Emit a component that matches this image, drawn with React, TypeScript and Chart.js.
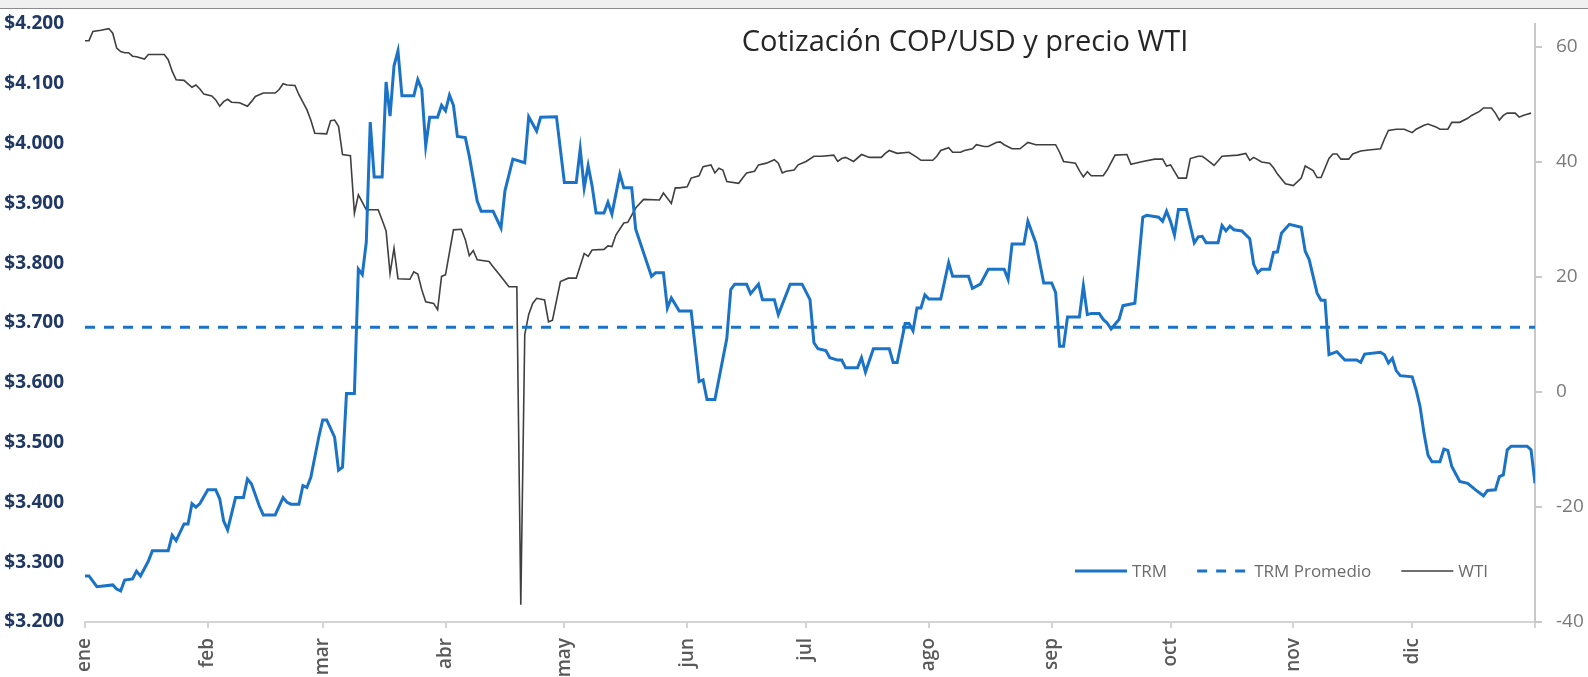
import React, { useEffect, useRef } from 'react';
import { Chart, registerables } from 'chart.js';

Chart.register(...registerables);

// ---------- data ----------
const chartTitle = 'Cotización COP/USD y precio WTI';
const seriesLabels = ['TRM', 'TRM Promedio', 'WTI'];
const monthLabels = ['ene', 'feb', 'mar', 'abr', 'may', 'jun', 'jul', 'ago', 'sep', 'oct', 'nov', 'dic'];
const monthStartDays = [0, 31, 60, 91, 121, 152, 182, 213, 244, 274, 305, 335];
const yearEndDay = 366;

// TRM (COP per USD), day of year 2020 (0 = 1 ene)
const trmDays = [
  0, 1, 3, 7, 8, 9, 10, 12, 13, 14, 16, 17, 21, 22, 23, 25, 26, 27, 28, 29, 31, 33, 34, 35, 36, 38, 40, 41, 42, 44,
  45, 48, 50, 51, 52, 54, 55, 56, 57, 59, 60, 61, 63, 64, 65, 66, 68, 69, 70, 71, 72, 73, 75, 76, 77, 78, 79, 80, 83, 84,
  85, 86, 87, 89, 90, 91, 92, 93, 94, 96, 97, 99, 100, 103, 105, 106, 108, 111, 112, 114, 115, 119, 121, 124, 125, 126, 127, 128, 129, 131,
  132, 133, 135, 136, 138, 139, 143, 144, 146, 147, 148, 150, 153, 155, 156, 157, 159, 162, 163, 164, 167, 168, 170, 171, 174, 175, 178, 181, 183, 184,
  185, 187, 188, 190, 191, 192, 195, 196, 197, 199, 203, 204, 205, 207, 208, 209, 210, 211, 212, 213, 216, 218, 219, 223, 224, 226, 228, 232, 233, 234,
  237, 238, 240, 242, 244, 245, 246, 247, 248, 251, 252, 253, 254, 256, 257, 258, 259, 261, 262, 265, 266, 267, 268, 271, 272, 273, 274, 275, 276, 278,
  280, 281, 282, 283, 286, 287, 288, 289, 290, 292, 294, 295, 296, 297, 299, 300, 301, 302, 304, 307, 308, 309, 311, 312, 313, 314, 316, 318, 321, 322,
  323, 327, 328, 329, 330, 331, 332, 335, 336, 337, 338, 339, 340, 342, 343, 344, 345, 347, 349, 351, 353, 354, 356, 357, 358, 359, 360, 364, 365, 366,
];
const trmValues = [
  3277, 3277, 3259, 3262, 3255, 3252, 3270, 3272, 3285, 3277, 3302, 3319, 3319, 3345, 3336, 3364, 3364, 3398, 3392, 3398, 3421, 3421, 3406, 3369, 3354, 3408, 3408, 3439, 3431, 3394,
  3379, 3379, 3408, 3400, 3397, 3397, 3428, 3425, 3442, 3509, 3538, 3538, 3509, 3454, 3459, 3582, 3582, 3790, 3781, 3835, 4036, 3944, 3944, 4103, 4046, 4130, 4155, 4080, 4080, 4107,
  4091, 3996, 4044, 4044, 4064, 4055, 4081, 4064, 4012, 4010, 3979, 3904, 3887, 3887, 3859, 3921, 3974, 3968, 4045, 4021, 4044, 4045, 3935, 3935, 3991, 3926, 3963, 3929, 3884, 3884,
  3902, 3882, 3949, 3926, 3926, 3857, 3778, 3784, 3784, 3725, 3742, 3720, 3720, 3602, 3605, 3572, 3572, 3674, 3756, 3765, 3765, 3749, 3765, 3739, 3739, 3714, 3765, 3765, 3739, 3667,
  3657, 3654, 3642, 3638, 3638, 3625, 3625, 3642, 3618, 3657, 3657, 3634, 3634, 3699, 3699, 3687, 3725, 3725, 3747, 3740, 3740, 3801, 3778, 3778, 3758, 3765, 3790, 3790, 3773, 3832,
  3832, 3870, 3834, 3767, 3767, 3751, 3661, 3661, 3710, 3710, 3762, 3714, 3716, 3716, 3706, 3700, 3690, 3706, 3729, 3733, 3805, 3877, 3880, 3877, 3870, 3887, 3870, 3847, 3890, 3890,
  3834, 3844, 3845, 3834, 3834, 3863, 3854, 3862, 3856, 3854, 3841, 3798, 3784, 3790, 3790, 3818, 3819, 3850, 3865, 3860, 3820, 3806, 3750, 3738, 3738, 3647, 3652, 3638, 3638, 3634,
  3648, 3651, 3647, 3633, 3641, 3620, 3612, 3610, 3588, 3560, 3515, 3479, 3468, 3468, 3489, 3487, 3460, 3435, 3432, 3421, 3411, 3420, 3421, 3443, 3446, 3488, 3494, 3494, 3488, 3432,
];
const trmPromedio = 3693;

// WTI (USD per barrel)
const wtiDays = [
  0, 1, 2, 4, 6, 7, 8, 9, 10, 11, 12, 13, 15, 16, 20, 21, 22, 23, 25, 26, 27, 28, 29, 30, 32, 33, 34, 35, 36, 37,
  39, 41, 42, 43, 45, 48, 49, 50, 51, 53, 54, 56, 57, 58, 61, 62, 63, 64, 65, 67, 68, 69, 71, 74, 75, 76, 77, 78, 79, 82,
  83, 84, 85, 86, 88, 89, 90, 91, 93, 95, 96, 97, 98, 99, 102, 103, 105, 107, 109, 110, 111, 112, 113, 114, 116, 117, 118, 120, 122, 124,
  126, 127, 128, 131, 132, 133, 134, 136, 137, 139, 141, 145, 146, 148, 149, 150, 152, 153, 155, 156, 158, 159, 160, 161, 162, 165, 166, 167, 169, 170,
  172, 174, 175, 176, 177, 179, 180, 182, 184, 186, 189, 190, 191, 192, 194, 196, 198, 201, 202, 203, 205, 208, 210, 211, 214, 215, 216, 218, 219, 221,
  222, 224, 225, 227, 228, 230, 231, 232, 234, 236, 238, 240, 242, 245, 246, 247, 250, 251, 252, 253, 254, 257, 258, 260, 263, 264, 267, 270, 272, 273,
  274, 276, 278, 279, 281, 282, 283, 285, 287, 291, 293, 294, 295, 297, 299, 300, 301, 303, 305, 307, 308, 310, 311, 312, 314, 315, 316, 317, 319, 320,
  322, 324, 327, 328, 329, 331, 333, 335, 336, 338, 339, 341, 342, 344, 345, 347, 349, 350, 352, 353, 355, 356, 357, 358, 359, 361, 362, 363, 364, 365,
];
const wtiValues = [
  61.1, 61.1, 62.7, 62.9, 63.2, 62.4, 59.8, 59.2, 59, 59, 58.4, 58.3, 57.9, 58.7, 58.7, 57.8, 55.8, 54.3, 54.2, 53.6, 53, 53.4, 52.7, 51.8, 51.5, 50.8, 49.7, 50.5, 50.9, 50.4,
  50.3, 49.7, 50.5, 51.4, 52, 52, 52.6, 53.6, 53.4, 53.3, 51.7, 49.1, 47.3, 45, 44.9, 47.2, 47.3, 46.2, 41.3, 41.1, 31.1, 34.3, 31.7, 31.7, 29.9, 28, 20.6, 25, 19.7, 19.6,
  20.9, 20.5, 17.8, 15.7, 15.4, 14.3, 20.1, 20.4, 28.2, 28.3, 26.5, 23.7, 24.6, 23, 22.7, 21.8, 20.1, 18.3, 18.3, -37, 10, 13.5, 15.4, 16.3, 16, 12.2, 12.5, 19.2, 19.8, 19.8,
  24.1, 23.6, 24.7, 24.8, 25.4, 25.3, 27.3, 29.4, 29.5, 32, 33.5, 33.4, 34.6, 32.8, 35.5, 35.5, 35.7, 37.2, 37.6, 39.2, 39.5, 38.1, 38.9, 38.6, 36.6, 36.3, 37.2, 38.1, 38.4, 39.5,
  39.8, 40.4, 39.8, 38.1, 38.4, 38.6, 39.5, 40.1, 41, 41, 41.2, 40.1, 40.6, 40.8, 40.1, 41.3, 40.8, 40.8, 41.5, 42, 41.5, 41.7, 40.8, 40.3, 40.3, 41, 42, 42.5, 41.7, 41.7,
  42, 42.3, 43, 42.7, 42.7, 43.4, 43.5, 43, 42.3, 42.3, 43.4, 43, 43, 43, 41.7, 40.1, 39.8, 38.5, 37.4, 38.3, 37.6, 37.6, 38.6, 41.2, 41.3, 39.6, 40.1, 40.5, 40.5, 39.3,
  39.5, 37.2, 37.2, 40.6, 41, 41, 40.5, 39.4, 41, 41.2, 41.5, 40.3, 40.8, 40, 39.8, 39, 37.9, 36.2, 35.9, 37.2, 39.3, 38.5, 37.3, 37.3, 40.6, 41.4, 41.4, 40.5, 40.5, 41.4,
  41.9, 42.1, 42.3, 44, 45.5, 45.7, 45.7, 45.1, 45.7, 46.4, 46.6, 46.1, 45.7, 45.7, 46.9, 46.9, 47.6, 48.1, 48.8, 49.4, 49.4, 48.5, 47.3, 48.1, 48.5, 48.5, 47.8, 48.1, 48.3, 48.5,
];

// ---------- style ----------
const FONT = '"Open Sans", "Liberation Sans", sans-serif';
const BLUE = '#1a73c6';
const GRAY_LINE = '#3f3f3f';

const fmtPeso = (v: number) => {
  const n = Math.round(v);
  const th = Math.floor(n / 1000);
  const rest = String(n % 1000).padStart(3, '0');
  return '$' + th + '.' + rest;
};

const titlePlugin = {
  id: 'customTitle',
  afterDraw(chart: any) {
    const { ctx } = chart;
    ctx.save();
    ctx.font = `29px ${FONT}`;
    ctx.fillStyle = '#262626';
    ctx.textAlign = 'center';
    ctx.textBaseline = 'alphabetic';
    ctx.fillText(chartTitle, 965, 51);
    ctx.restore();
  },
};

const legendPlugin = {
  id: 'customLegend',
  afterDraw(chart: any) {
    const { ctx } = chart;
    ctx.save();
    ctx.font = `17px ${FONT}`;
    ctx.textBaseline = 'middle';
    ctx.textAlign = 'left';
    let x = 1075;
    const y = 571;
    chart.data.datasets.forEach((ds: any) => {
      ctx.beginPath();
      ctx.strokeStyle = ds.borderColor;
      ctx.lineWidth = ds.borderWidth;
      ctx.setLineDash(ds.borderDash || []);
      ctx.moveTo(x, y);
      ctx.lineTo(x + 52, y);
      ctx.stroke();
      ctx.setLineDash([]);
      ctx.fillStyle = '#6b6b6b';
      ctx.fillText(ds.label, x + 57, y + 1);
      x += 57 + ctx.measureText(ds.label).width + 30;
    });
    ctx.restore();
  },
};

export default function App() {
  const canvasRef = useRef<HTMLCanvasElement | null>(null);

  useEffect(() => {
    let chart: Chart | null = null;
    let cancelled = false;
    const build = () => {
      if (cancelled || !canvasRef.current) return;
      const toPoints = (days: number[], vals: number[]) => days.map((d, i) => ({ x: d, y: vals[i] }));
      chart = new Chart(canvasRef.current, {
        type: 'line',
        data: {
          datasets: [
            {
              label: seriesLabels[0],
              data: toPoints(trmDays, trmValues),
              borderColor: BLUE,
              borderWidth: 3,
              yAxisID: 'y',
              pointRadius: 0,
            },
            {
              label: seriesLabels[1],
              data: toPoints([0, yearEndDay], [trmPromedio, trmPromedio]),
              borderColor: BLUE,
              borderWidth: 3,
              borderDash: [10, 9],
              yAxisID: 'y',
              pointRadius: 0,
            },
            {
              label: seriesLabels[2],
              data: toPoints(wtiDays, wtiValues),
              borderColor: GRAY_LINE,
              borderWidth: 1.6,
              yAxisID: 'y1',
              pointRadius: 0,
            },
          ],
        },
        options: {
          responsive: false,
          animation: false,
          devicePixelRatio: 1,
          layout: { padding: { top: 24, left: 0, right: 0, bottom: 0 } },
          elements: { line: { tension: 0 }, point: { radius: 0 } },
          plugins: {
            legend: { display: false },
            tooltip: { enabled: false },
            title: { display: false },
          },
          scales: {
            x: {
              type: 'linear',
              min: 0,
              max: yearEndDay,
              afterBuildTicks: (s: any) => {
                s.ticks = [...monthStartDays, yearEndDay].map((v) => ({ value: v }));
              },
              afterFit: (s: any) => {
                s.height = 55;
              },
              grid: { drawOnChartArea: false, drawTicks: true, tickLength: 6, color: '#d4d4d4', lineWidth: 2 },
              border: { display: true, color: '#d4d4d4', width: 2 },
              ticks: {
                autoSkip: false,
                minRotation: 90,
                maxRotation: 90,
                padding: 10,
                labelOffset: 0,
                color: '#595959',
                font: { family: FONT, size: 19, weight: '600', lineHeight: 1 },
                callback: (v: any) => {
                  const i = monthStartDays.indexOf(Number(v));
                  return i >= 0 ? monthLabels[i] : '';
                },
              },
            },
            y: {
              position: 'left',
              min: 3200,
              max: 4200,
              afterFit: (s: any) => {
                s.width = 85;
              },
              grid: {
                display: true,
                drawOnChartArea: false,
                drawTicks: true,
                tickLength: 17,
                color: 'rgba(0,0,0,0)',
              },
              border: { display: false },
              ticks: {
                stepSize: 100,
                padding: 4,
                color: '#1f3864',
                font: { family: FONT, size: 19, weight: 'bold', lineHeight: 1 },
                callback: (v: any) => fmtPeso(Number(v)),
              },
            },
            y1: {
              position: 'right',
              min: -40,
              max: 64,
              afterBuildTicks: (s: any) => {
                s.ticks = s.ticks.filter((t: any) => t.value % 20 === 0);
              },
              afterFit: (s: any) => {
                s.width = 53;
              },
              grid: { drawOnChartArea: false, drawTicks: true, tickLength: 7, color: '#c8c8c8', lineWidth: 2 },
              border: { display: true, color: '#c8c8c8', width: 2 },
              ticks: {
                stepSize: 20,
                padding: 14,
                color: '#7a7a7a',
                font: { family: FONT, size: 19, lineHeight: 1 },
              },
            },
          },
        },
        plugins: [titlePlugin, legendPlugin],
      } as any);
    };
    const fontsReady = (document as any).fonts
      ? Promise.all([
          (document as any).fonts.load(`18px "Open Sans"`),
          (document as any).fonts.load(`bold 18px "Open Sans"`),
          (document as any).fonts.load(`600 17px "Open Sans"`),
        ]).catch(() => null)
      : Promise.resolve(null);
    fontsReady.then(build);
    return () => {
      cancelled = true;
      if (chart) chart.destroy();
    };
  }, []);

  return (
    <div style={{ position: 'fixed', left: 0, top: 0, width: 1588, height: 677, background: '#ffffff', overflow: 'hidden' }}>
      <canvas ref={canvasRef} width={1588} height={677} style={{ position: 'absolute', left: 0, top: 0, width: 1588, height: 677 }} />
      <div
        style={{
          position: 'absolute',
          left: 0,
          top: 0,
          width: 1588,
          height: 8,
          background: '#f0f0f0',
          borderBottom: '1px solid #8c8c8c',
        }}
      />
    </div>
  );
}
